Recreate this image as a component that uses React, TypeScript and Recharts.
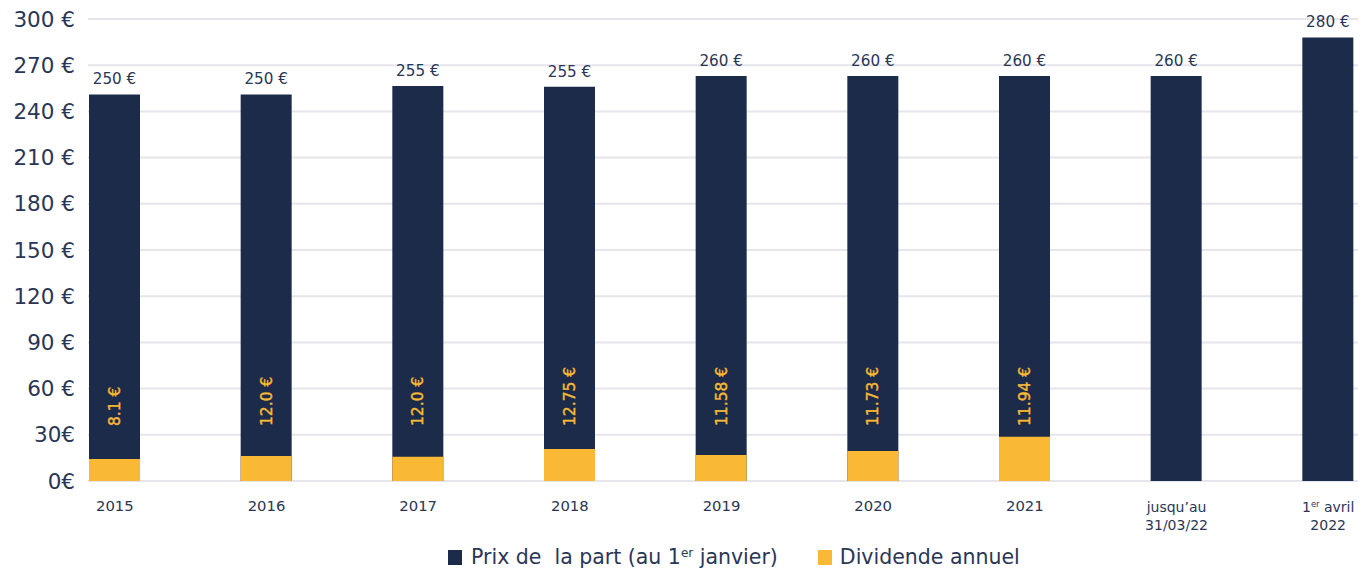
import React from 'react';
import { BarChart, Bar, XAxis, YAxis, CartesianGrid, Legend, LabelList } from 'recharts';

const categories = ['2015', '2016', '2017', '2018', '2019', '2020', '2021', 'jusqu’au\n31/03/22', '1^er avril\n2022'];
const priceValues = [251, 251, 256.5, 256, 263, 263, 263, 263, 288];
const priceLabels = ['250 €', '250 €', '255 €', '255 €', '260 €', '260 €', '260 €', '260 €', '280 €'];
const dividendValues = [14.3, 16.2, 15.8, 20.8, 16.9, 19.5, 28.8, 0, 0];
const dividendLabels = ['8.1 €', '12.0 €', '12.0 €', '12.75 €', '11.58 €', '11.73 €', '11.94 €', '', ''];
const yTicks = [0, 30, 60, 90, 120, 150, 180, 210, 240, 270, 300];
const yTickLabels = ['0€', '30€', '60 €', '90 €', '120 €', '150 €', '180 €', '210 €', '240 €', '270 €', '300 €'];

const NAVY = '#1c2b4a';
const YELLOW = '#f9b934';
const TEXT = '#2a3656';
const GRID = '#e5e5ec';
const FONT = '"DejaVu Sans", "Noto Sans", sans-serif';

const data = categories.map((c, i) => ({
  cat: c,
  price: priceValues[i],
  priceLabel: priceLabels[i],
  dividend: dividendValues[i],
  dividendLabel: dividendLabels[i],
}));

const renderSup = (line: string, size: number) => {
  const idx = line.indexOf('^');
  if (idx < 0) return line;
  const before = line.slice(0, idx);
  const rest = line.slice(idx + 1);
  const m = rest.match(/^(\S+)(.*)$/);
  const sup = m ? m[1] : rest;
  const after = m ? m[2] : '';
  return (
    <>
      <tspan>{before}</tspan>
      <tspan dy={-size * 0.38} fontSize={size * 0.6}>{sup}</tspan>
      <tspan dy={size * 0.38}>{after}</tspan>
    </>
  );
};

const XTick = (props: any) => {
  const { x, y, payload } = props;
  const lines = String(payload.value).split('\n');
  if (lines.length === 1) {
    return (
      <g transform={`translate(${x},${y})`}>
        <text x={0} y={0} dy={27.5} textAnchor="middle" fontSize={14.8} fill={TEXT} fontFamily={FONT}>
          {lines[0]}
        </text>
      </g>
    );
  }
  return (
    <g transform={`translate(${x},${y})`}>
      {lines.map((ln, i) => (
        <text key={i} x={0} y={0} dy={29 + i * 17.5} textAnchor="middle" fontSize={14} fill={TEXT} fontFamily={FONT}>
          {renderSup(ln, 14)}
        </text>
      ))}
    </g>
  );
};

const YTick = (props: any) => {
  const { x, y, payload } = props;
  const idx = yTicks.indexOf(payload.value);
  return (
    <text x={x} y={y} dy={7.5} textAnchor="end" fontSize={21.5} fill={TEXT} fontFamily={FONT}>
      {yTickLabels[idx]}
    </text>
  );
};

const DividendLabel = (props: any) => {
  const { x, y, width, height, value } = props;
  if (!value) return null;
  const cx = x + width / 2;
  const bottom = y + height;
  const ty = bottom - 55;
  return (
    <text
      x={cx}
      y={ty}
      transform={`rotate(-90, ${cx}, ${ty})`}
      textAnchor="start"
      dy={5.5}
      fontSize={15.5}
      fill={YELLOW}
      stroke={YELLOW}
      strokeWidth={0.4}
      fontFamily={FONT}
    >
      {value}
    </text>
  );
};

const LegendContent = () => (
  <div
    style={{
      display: 'flex',
      justifyContent: 'flex-start',
      alignItems: 'flex-start',
      paddingLeft: 440,
      paddingTop: 4,
      fontFamily: FONT,
      fontSize: 20.5,
      color: TEXT,
      lineHeight: '24px',
      height: 28,
      boxSizing: 'border-box',
    }}
  >
    <span style={{ display: 'inline-block', width: 14, height: 15, background: NAVY, marginTop: 5, marginRight: 9 }} />
    <span style={{ whiteSpace: 'pre' }}>
      Prix de  la part (au 1<sup style={{ fontSize: 12, verticalAlign: 'top', lineHeight: '16px' }}>er</sup> janvier)
    </span>
    <span style={{ display: 'inline-block', width: 14, height: 15, background: YELLOW, marginTop: 5, marginLeft: 40, marginRight: 8 }} />
    <span>Dividende annuel</span>
  </div>
);

export default function App() {
  return (
    <div style={{ width: 1358, height: 561, overflow: 'hidden' }}>
      <BarChart
        width={1358}
        height={561}
        data={data}
        margin={{ top: 11, right: 0, left: 0, bottom: 0 }}
        barGap={-51}
        barSize={51}
      >
        <CartesianGrid horizontal vertical={false} stroke={GRID} strokeWidth={2} />
        <XAxis
          dataKey="cat"
          axisLine={false}
          tickLine={false}
          tickSize={0}
          height={60}
          interval={0}
          padding={{ left: -49, right: -38 }}
          tick={<XTick />}
        />
        <YAxis
          domain={[0, 300]}
          ticks={yTicks}
          axisLine={false}
          tickLine={false}
          tickSize={0}
          tickMargin={13}
          width={80}
          interval={0}
          tick={<YTick />}
        />
        <Legend verticalAlign="bottom" wrapperStyle={{ height: 28 }} content={<LegendContent />} />
        <Bar dataKey="price" fill={NAVY} isAnimationActive={false}>
          <LabelList dataKey="priceLabel" position="top" offset={10} fontSize={15.2} fill={TEXT} fontFamily={FONT} />
        </Bar>
        <Bar dataKey="dividend" fill={YELLOW} isAnimationActive={false}>
          <LabelList dataKey="dividendLabel" content={<DividendLabel />} />
        </Bar>
      </BarChart>
    </div>
  );
}
